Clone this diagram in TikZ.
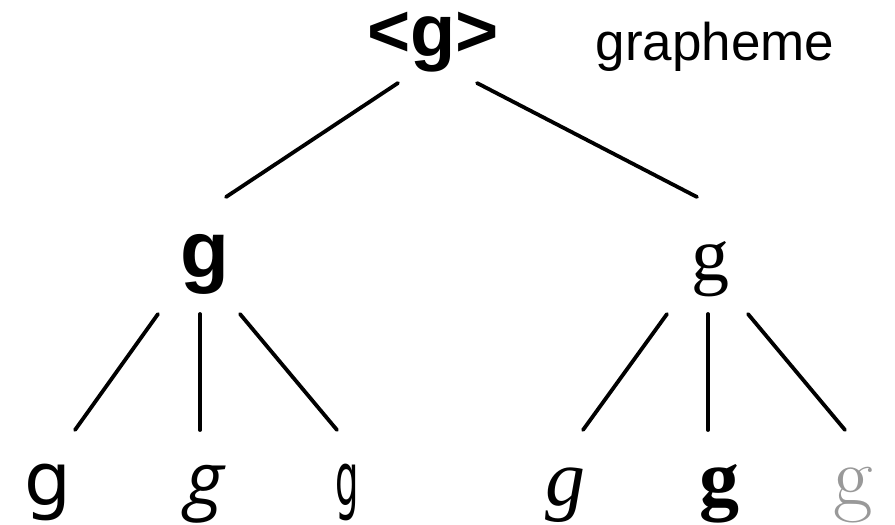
\documentclass[tikz,border=0pt]{standalone}
\usepackage{fontspec}
\setmainfont{Liberation Serif}
\newfontfamily\hsans{Liberation Sans}
\newfontfamily\djsans{DejaVu Sans}
\newfontfamily\opensans{Open Sans}
\newfontfamily\lmroman{Latin Modern Roman}
\begin{document}
\begin{tikzpicture}[x=1pt,y=-1pt,
  edge/.style={line width=3.8pt,line cap=round},
  glyph/.style={inner sep=0pt,anchor=base}]
\useasboundingbox (0,0) rectangle (895,525);
% labels
\node[glyph] (top) at (433,56) {\hsans\bfseries\fontsize{74}{76}\selectfont <g>};
\node[glyph] (lab) at (715,60) {\hsans\fontsize{53}{55}\selectfont grapheme};
\node[glyph] (ml) at (205,277) {\hsans\bfseries\fontsize{80}{82}\selectfont g};
\node[glyph] (mr) at (710,280) {\fontsize{76}{78}\selectfont g};
\node[glyph] (b1) at (48,505) {\djsans\fontsize{74}{76}\selectfont g};
\node[glyph] (b2) at (205,505) {\opensans\itshape\fontsize{74}{76}\selectfont g};
\node[glyph] (b3) at (347,505) {\scalebox{0.5}[1]{\djsans\fontsize{74}{76}\selectfont g}};
\node[glyph] (b4) at (565,505) {\itshape\fontsize{80}{82}\selectfont g};
\node[glyph] (b5) at (719,505) {\bfseries\fontsize{80}{82}\selectfont g};
\node[glyph,text=black!40] (b6) at (853,505) {\lmroman\fontsize{86}{88}\selectfont g};
% connector end points
\coordinate (t1) at (398,83);  \coordinate (l1) at (226,197);
\coordinate (t2) at (477,83);  \coordinate (r1) at (697,197);
\coordinate (a1) at (158,314); \coordinate (a1e) at (75,430);
\coordinate (a2) at (200,314); \coordinate (a2e) at (200,430);
\coordinate (a3) at (240,314); \coordinate (a3e) at (337,430);
\coordinate (c1) at (667,314); \coordinate (c1e) at (583,430);
\coordinate (c2) at (708,314); \coordinate (c2e) at (708,430);
\coordinate (c3) at (748,314); \coordinate (c3e) at (845,430);
\draw[edge] (t1) -- (l1);
\draw[edge] (t2) -- (r1);
\draw[edge] (a1) -- (a1e);
\draw[edge] (a2) -- (a2e);
\draw[edge] (a3) -- (a3e);
\draw[edge] (c1) -- (c1e);
\draw[edge] (c2) -- (c2e);
\draw[edge] (c3) -- (c3e);
\end{tikzpicture}
\end{document}
